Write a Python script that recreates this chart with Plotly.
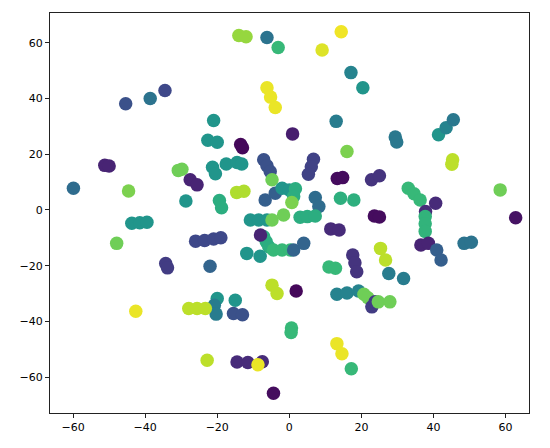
import plotly.graph_objects as go

# t-SNE embedding: points (x, y) and their class colour value (0..1 on viridis)
x_vals = [
    -45.4, -38.6, -34.5, -51.2, -50.0, -59.9, -44.6, -30.8, -29.8, -27.5, -25.6, -28.7,
    -14.0, -12.0, -6.2, -3.1, 14.4, 9.1, 17.1, 20.4, -6.2, -5.2, -3.9, -21.0, 13.0, 0.9,
    -22.6, -20.0, -13.5, -13.0, 16.0,
    -21.3, -17.5, -14.5, -13.2, -20.5,
    -7.1, -6.2, -5.3, 6.7, 6.1, 5.3, 13.3, 14.8, -14.6, -12.6, -4.8,
    -6.7, -3.9, -2.0, 0.0, 1.7, 1.2, 0.7, 7.2, 8.2, 14.2, 17.9, -19.4, -18.8,
    -10.8, -8.5, -6.2, -4.8, -1.6, 3.0, 5.0, 7.2, 23.6, 25.0,
    -26.0, -23.5, -21.0, -19.0, -7.1, -6.4, -5.7, -8.0,
    -11.8, -8.1, -4.4, -2.0, 0.3, 1.2, 4.0, 11.5, 13.8,
    17.6, 18.2, 18.7, 11.0, 12.8, 25.3, 26.7, 27.6, 31.7, 1.9,
    13.2, 16.0, 19.2, 20.7, 21.8, 22.9, 23.8, 24.7, 27.9,
    -4.8, -3.4, -20.0, -15.0, -20.8, -20.3, -15.5, -13.0,
    -27.9, -25.6, -23.3, 0.6, 0.5, 13.2, 14.6, -22.8,
    -14.5, -11.5, -7.5, -8.7, -4.4, 17.2,
    -43.7, -41.5, -39.5, -47.9, -34.3, -33.8, -22.0, -42.6,
    41.4, 43.5, 45.5, 45.3, 45.1, 22.8, 25.0, 33.0, 34.6, 36.3, 58.5,
    37.8, 40.6, 37.7, 37.7, 37.7, 62.8, 36.5, 38.6, 40.9, 42.1, 48.5, 50.5,
    29.4, 29.8,
]
y_vals = [
    38.1, 40.0, 42.9, 16.0, 15.8, 7.8, 6.8, 14.2, 14.6, 10.8, 9.0, 3.2,
    62.6, 62.2, 61.9, 58.3, 64.0, 57.4, 49.3, 43.9, 43.9, 40.5, 36.8, 32.1, 31.8, 27.3,
    25.0, 24.3, 23.5, 22.3, 21.0,
    15.3, 16.5, 17.0, 16.5, 13.0,
    18.0, 15.9, 13.8, 18.2, 15.5, 12.8, 11.3, 11.6, 6.3, 6.7, 10.8,
    3.6, 6.0, 7.8, 7.2, 7.6, 4.8, 2.7, 4.5, 1.2, 4.2, 3.6, 3.4, 0.8,
    -3.6, -3.6, -3.6, -3.6, -1.8, -2.6, -2.4, -2.2, -2.2, -2.5,
    -11.2, -11.0, -10.4, -10.0, -9.6, -11.4, -13.2, -9.0,
    -15.6, -16.6, -14.4, -14.4, -14.4, -14.4, -12.0, -6.8, -7.2,
    -16.2, -19.0, -22.2, -20.5, -20.9, -13.8, -18.0, -22.8, -24.6, -29.1,
    -30.3, -29.8, -29.1, -30.3, -31.5, -34.8, -33.0, -33.0, -33.0,
    -27.0, -30.0, -31.8, -32.4, -34.2, -37.4, -37.2, -37.6,
    -35.4, -35.4, -35.4, -42.4, -44.0, -48.0, -51.6, -54.0,
    -54.6, -54.8, -54.5, -55.6, -65.8, -57.0,
    -4.8, -4.6, -4.4, -12.0, -19.2, -20.8, -20.2, -36.4,
    27.0, 29.5, 32.4, 18.0, 16.4, 10.8, 12.3, 7.8, 5.8, 3.6, 7.2,
    -0.6, 2.4, -2.4, -5.0, -7.7, -2.8, -12.6, -12.0, -14.4, -18.0, -12.0, -11.6,
    26.2, 24.4,
]
class_vals = [
    0.25, 0.38, 0.22, 0.10, 0.10, 0.35, 0.80, 0.78, 0.78, 0.10, 0.10, 0.52,
    0.84, 0.84, 0.38, 0.67, 0.98, 0.95, 0.45, 0.52, 0.97, 0.97, 0.97, 0.52, 0.42, 0.08,
    0.52, 0.52, 0.02, 0.02, 0.80,
    0.52, 0.52, 0.52, 0.52, 0.52,
    0.25, 0.25, 0.25, 0.20, 0.20, 0.20, 0.03, 0.03, 0.88, 0.88, 0.78,
    0.30, 0.30, 0.52, 0.52, 0.62, 0.62, 0.80, 0.35, 0.35, 0.63, 0.63, 0.62, 0.62,
    0.52, 0.52, 0.52, 0.78, 0.78, 0.62, 0.62, 0.62, 0.03, 0.03,
    0.22, 0.22, 0.22, 0.22, 0.62, 0.62, 0.62, 0.10,
    0.52, 0.52, 0.67, 0.67, 0.67, 0.32, 0.32, 0.12, 0.12,
    0.15, 0.15, 0.15, 0.67, 0.67, 0.90, 0.90, 0.42, 0.42, 0.02,
    0.45, 0.45, 0.45, 0.78, 0.78, 0.18, 0.18, 0.78, 0.78,
    0.90, 0.90, 0.52, 0.52, 0.42, 0.42, 0.25, 0.25,
    0.90, 0.90, 0.90, 0.67, 0.67, 0.97, 0.97, 0.90,
    0.12, 0.12, 0.12, 0.97, 0.03, 0.67,
    0.52, 0.52, 0.52, 0.78, 0.18, 0.18, 0.32, 0.97,
    0.52, 0.45, 0.40, 0.90, 0.90, 0.15, 0.15, 0.67, 0.67, 0.67, 0.78,
    0.12, 0.12, 0.65, 0.65, 0.65, 0.05, 0.10, 0.10, 0.30, 0.30, 0.38, 0.38,
    0.40, 0.40,
]

x_ticks = [-60, -40, -20, 0, 20, 40, 60]
y_ticks = [-60, -40, -20, 0, 20, 40, 60]

fig = go.Figure(
    go.Scatter(
        x=x_vals, y=y_vals, mode="markers",
        marker=dict(size=13.5, color=class_vals, colorscale="Viridis",
                    cmin=0, cmax=1, line=dict(width=0)),
        hoverinfo="skip",
    )
)

axis_common = dict(
    showgrid=False, zeroline=False, showline=True, mirror=True,
    linecolor="#222", linewidth=1, ticks="outside", ticklen=4,
    tickcolor="#222", tickfont=dict(family="DejaVu Sans", size=11, color="black"),
)
fig.update_xaxes(range=[-66.4, 66.5], tickvals=x_ticks, **axis_common)
fig.update_yaxes(range=[-72.9, 70.7], tickvals=y_ticks, **axis_common)
# the page body adds an 8px offset, so margins are shifted to compensate
fig.update_layout(
    width=550, height=448,
    margin=dict(l=42, r=29, t=5, b=43),
    plot_bgcolor="white", paper_bgcolor="white",
    showlegend=False,
)
fig.write_html("out.html")
